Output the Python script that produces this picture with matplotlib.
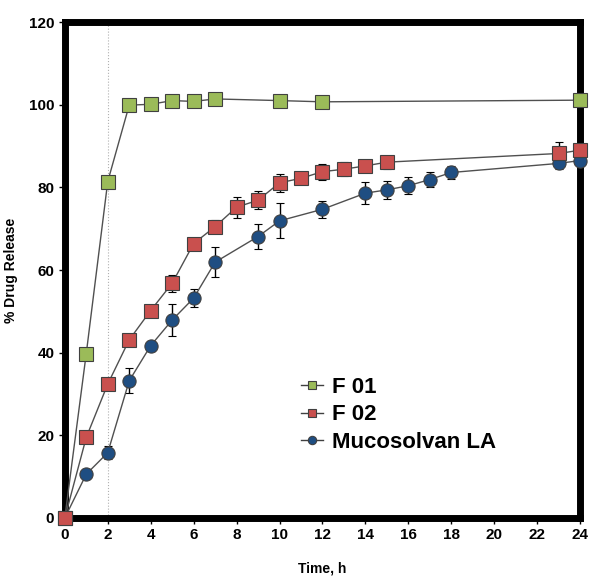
import matplotlib.pyplot as plt
from matplotlib.lines import Line2D
import numpy as np

plt.rcParams["font.family"] = ["Liberation Sans", "DejaVu Sans"]
plt.rcParams["font.weight"] = "bold"

# release data
t_f01 = [0, 1, 2, 3, 4, 5, 6, 7, 10, 12, 24]
f01 = [0, 39.8, 81.4, 99.9, 100.1, 101.0, 100.8, 101.4, 101.0, 100.7, 101.1]

t_f02 = [0, 1, 2, 3, 4, 5, 6, 7, 8, 9, 10, 11, 12, 13, 14, 15, 23, 24]
f02 = [0, 19.5, 32.4, 43.1, 50.2, 56.8, 66.4, 70.5, 75.2, 76.9, 81.1, 82.2,
       83.8, 84.4, 85.2, 86.1, 88.2, 89.0]
f02_err = [0, 0, 0, 0, 1.2, 2.0, 0.8, 1.5, 2.5, 2.2, 2.2, 0, 1.9, 1.7, 1.4,
           1.6, 2.7, 0]

t_muco = [0, 1, 2, 3, 4, 5, 6, 7, 9, 10, 12, 14, 15, 16, 17, 18, 23, 24]
muco = [0, 10.6, 15.8, 33.2, 41.7, 47.9, 53.2, 61.9, 68.1, 71.9, 74.7, 78.6,
        79.4, 80.4, 81.9, 83.6, 85.8, 86.5]
muco_err = [0, 0, 1.6, 3.0, 1.2, 3.8, 2.2, 3.6, 3.1, 4.2, 2.0, 2.6, 2.1, 2.0,
            1.9, 1.6, 1.4, 0]

names = ["F 01", "F 02", "Mucosolvan LA"]
colors = ["#9bbb59", "#c9504e", "#1f4e82"]
markers = ["s", "s", "o"]

fig = plt.figure(figsize=(5.89, 5.76), dpi=100)
ax = fig.add_axes([0.110, 0.1007, 0.875, 0.861])

ax.axvline(2, color="#b0b0b0", lw=0.8, ls=":", zorder=1)

line_kw = dict(color="#505050", lw=1.0, mec="#404040", mew=0.8, ms=9.5,
               clip_on=False, zorder=5)
ax.errorbar(t_muco, muco, yerr=muco_err, ecolor="black", elinewidth=1,
            capsize=3, capthick=1, marker=markers[2], mfc=colors[2], **line_kw)
ax.errorbar(t_f02, f02, yerr=f02_err, ecolor="black", elinewidth=1,
            capsize=3, capthick=1, marker=markers[1], mfc=colors[1], **line_kw)
ax.plot(t_f01, f01, marker=markers[0], mfc=colors[0], **line_kw)

ax.set_xlim(0, 24)
ax.set_ylim(0, 120)
ax.set_xticks(np.arange(0, 25, 2))
ax.set_yticks(np.arange(0, 121, 20))
ax.tick_params(labelsize=11, width=1, length=4, direction="out")
for lab in ax.get_xticklabels() + ax.get_yticklabels():
    lab.set_fontweight("bold")
for s in ax.spines.values():
    s.set_linewidth(5)
    s.set_zorder(4)

ax.set_xlabel("Time, h", fontsize=10, fontweight="bold", labelpad=14)
ax.set_ylabel("% Drug Release", fontsize=10, fontweight="bold", labelpad=8)

handles = [Line2D([], [], color="#404040", lw=1, marker=m, mfc=c,
                  mec="#404040", mew=0.8, ms=6)
           for m, c in zip(markers, colors)]
ax.legend(handles, names, loc="upper left", bbox_to_anchor=(0.42, 0.325),
          frameon=False, handlelength=1.0, labelspacing=0.3,
          handletextpad=0.4, prop={"size": 16, "weight": "bold"})

fig.savefig("out.png", dpi=100)
